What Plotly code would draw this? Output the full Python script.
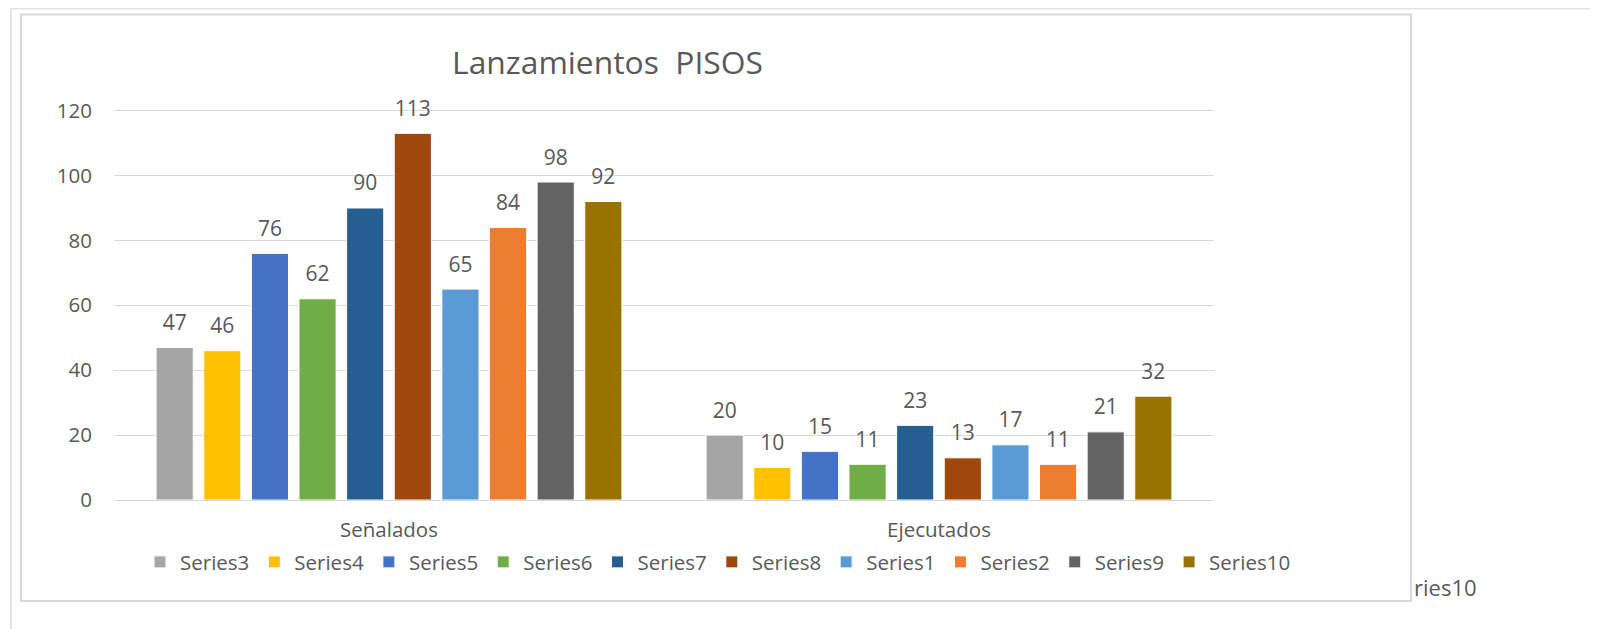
import plotly.graph_objects as go

categories = ["Señalados", "Ejecutados"]
series_names = ["Series3", "Series4", "Series5", "Series6", "Series7",
                "Series8", "Series1", "Series2", "Series9", "Series10"]
senalados = [47, 46, 76, 62, 90, 113, 65, 84, 98, 92]
ejecutados = [20, 10, 15, 11, 23, 13, 17, 11, 21, 32]
colors = ["#A5A5A5", "#FFC000", "#4472C4", "#70AD47", "#255E91",
          "#9E480E", "#5B9BD5", "#ED7D31", "#636363", "#997300"]
y_ticks = [0, 20, 40, 60, 80, 100, 120]

# page geometry (the html body adds an 8px margin, so the figure is offset)
OFF = 8
W, H = 1598 - OFF, 629 - OFF
# plot area in screen pixels
PL, PR, Y120, PB = 114, 1214, 111, 500
YMAX = 120.5
per_unit = (PB - Y120) / 120.0
PT = PB - YMAX * per_unit
FONT = "Open Sans"
TXT = "#595959"
LEG_RIGHT = 1296


def px(x):
    return (x - PL) / (PR - PL)


def py(y):
    return (PB - y) / (PB - PT)


fig = go.Figure()
for i, name in enumerate(series_names):
    vals = [senalados[i], ejecutados[i]]
    fig.add_trace(go.Bar(
        x=categories, y=vals, name=name,
        marker=dict(color=colors[i], line=dict(color="white", width=1)),
        hoverinfo="skip",
    ))
for i, name in enumerate(series_names):
    vals = [senalados[i], ejecutados[i]]
    fig.add_trace(go.Scatter(
        x=categories, y=vals, mode="markers+text",
        text=[str(v) for v in vals], textposition="top center",
        textfont=dict(family=FONT, size=21, color=TXT),
        marker=dict(size=18, color="rgba(0,0,0,0)"),
        showlegend=False, hoverinfo="skip", cliponaxis=False,
    ))

shapes = [
    dict(type="rect", xref="paper", yref="paper",
         x0=px(21), x1=px(1411), y0=py(15), y1=py(601),
         line=dict(color="#d9d9d9", width=2), layer="below"),
    dict(type="line", xref="paper", yref="paper",
         x0=px(11), x1=px(1598), y0=py(OFF + 1), y1=py(OFF + 1),
         line=dict(color="#e3e3e3", width=2)),
    dict(type="line", xref="paper", yref="paper",
         x0=px(11), x1=px(11), y0=py(OFF), y1=py(629),
         line=dict(color="#e3e3e3", width=2)),
]

fig.update_layout(
    width=W, height=H,
    margin=dict(l=PL - OFF, r=W - (PR - OFF), t=PT - OFF, b=H - (PB - OFF), autoexpand=False),
    paper_bgcolor="white", plot_bgcolor="white",
    barmode="group", bargap=0.134, bargroupgap=0.22,
    scattermode="group", scattergap=0.134,
    font=dict(family=FONT, color=TXT, size=20),
    title=dict(text="Lanzamientos  PISOS", xref="container", yref="container",
               x=(607.5 - OFF) / W, xanchor="center",
               y=1 - (62.5 - OFF) / H, yanchor="middle",
               font=dict(family=FONT, size=31.8, color=TXT)),
    xaxis=dict(range=[-0.5, 1.5], showgrid=False, showline=False, ticks="",
               ticklabelstandoff=15,
               tickfont=dict(family=FONT, size=20.5, color=TXT), fixedrange=True),
    yaxis=dict(range=[0, YMAX], tickvals=y_ticks, showgrid=True, gridcolor="#d9d9d9",
               gridwidth=1, zeroline=True, zerolinecolor="#d9d9d9", zerolinewidth=1,
               showline=False, ticks="", ticklabelstandoff=21,
               tickfont=dict(family=FONT, size=20.5, color=TXT), fixedrange=True),
    legend=dict(orientation="h", xref="paper", yref="paper",
                x=px(LEG_RIGHT), xanchor="right",
                y=py(562), yanchor="middle",
                font=dict(family=FONT, size=20.5, color=TXT),
                traceorder="normal", bgcolor="rgba(0,0,0,0)"),
    shapes=shapes,
    annotations=[dict(text="ries10", xref="paper", yref="paper", x=px(1412), y=py(587),
                      xanchor="left", yanchor="middle", showarrow=False,
                      font=dict(family=FONT, size=22, color="#595959"))],
)

fig.write_html("out.html")
